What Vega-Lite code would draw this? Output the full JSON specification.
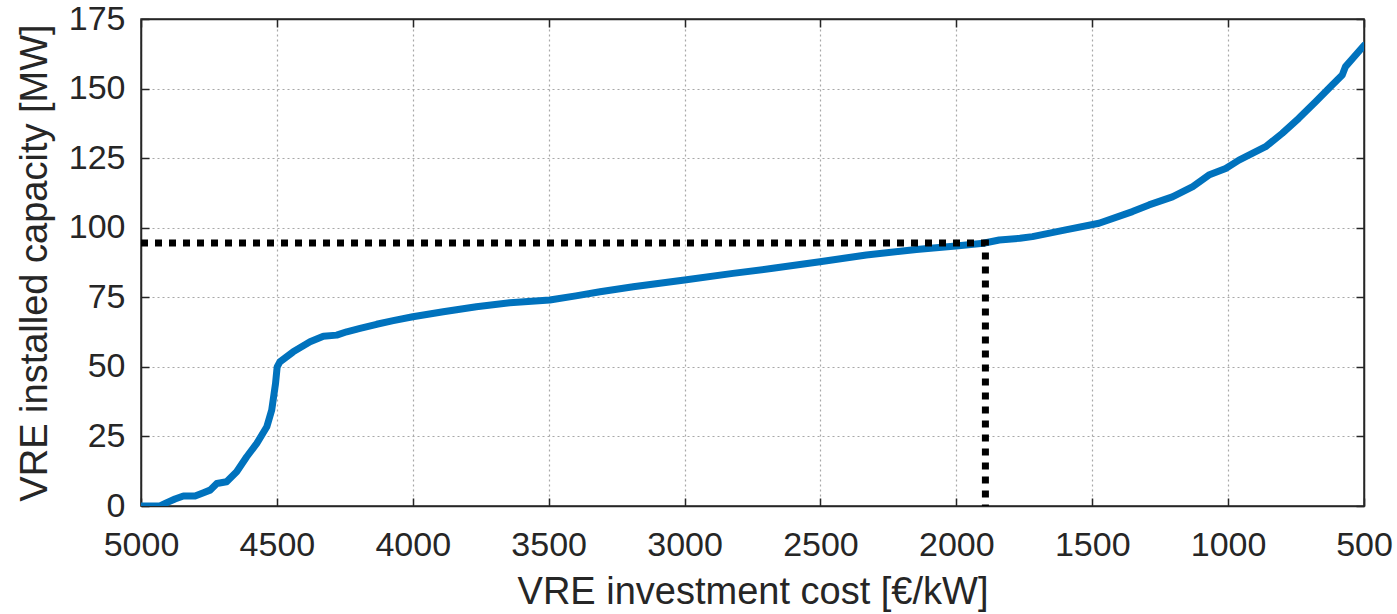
{
  "$schema": "https://vega.github.io/schema/vega-lite/v6.json",
  "autosize": "none",
  "padding": {"left": 141, "top": 19, "right": 33, "bottom": 108},
  "width": 1223,
  "height": 487,
  "background": "white",
  "config": {
    "font": "Liberation Sans",
    "view": {"stroke": "#262626", "strokeWidth": 1.5},
    "axis": {
      "labelFont": "Liberation Sans",
      "titleFont": "Liberation Sans",
      "labelFontSize": 34,
      "titleFontSize": 38,
      "labelColor": "#262626",
      "titleColor": "#262626",
      "titleFontWeight": "normal",
      "domainColor": "#262626",
      "domainWidth": 1.5,
      "tickColor": "#262626",
      "tickSize": -8,
      "tickWidth": 1.5,
      "gridColor": "#a8a8a8",
      "gridDash": [2, 3],
      "gridWidth": 1.2
    }
  },
  "resolve": {"axis": {"x": "independent", "y": "independent"}},
  "datasets": {
    "curve": [
      {"cost": 5000, "capacity": 0},
      {"cost": 4960, "capacity": 0},
      {"cost": 4930, "capacity": 0},
      {"cost": 4905, "capacity": 1.2},
      {"cost": 4875, "capacity": 2.5},
      {"cost": 4844, "capacity": 3.6},
      {"cost": 4801, "capacity": 3.6},
      {"cost": 4770, "capacity": 4.8},
      {"cost": 4746, "capacity": 5.7},
      {"cost": 4721, "capacity": 8.1},
      {"cost": 4685, "capacity": 8.7},
      {"cost": 4648, "capacity": 12.3},
      {"cost": 4611, "capacity": 17.7},
      {"cost": 4574, "capacity": 22.5},
      {"cost": 4537, "capacity": 28.5},
      {"cost": 4519, "capacity": 34.5},
      {"cost": 4505, "capacity": 44},
      {"cost": 4499, "capacity": 50},
      {"cost": 4489, "capacity": 51.8},
      {"cost": 4440, "capacity": 55.4},
      {"cost": 4378, "capacity": 59},
      {"cost": 4329, "capacity": 61},
      {"cost": 4280, "capacity": 61.4},
      {"cost": 4243, "capacity": 62.6},
      {"cost": 4194, "capacity": 63.8},
      {"cost": 4133, "capacity": 65.3},
      {"cost": 4072, "capacity": 66.6},
      {"cost": 4000, "capacity": 68},
      {"cost": 3888, "capacity": 69.8},
      {"cost": 3766, "capacity": 71.6},
      {"cost": 3643, "capacity": 73},
      {"cost": 3496, "capacity": 74},
      {"cost": 3400, "capacity": 75.5},
      {"cost": 3311, "capacity": 77},
      {"cost": 3189, "capacity": 78.8},
      {"cost": 3000, "capacity": 81.2},
      {"cost": 2822, "capacity": 83.6},
      {"cost": 2675, "capacity": 85.4},
      {"cost": 2502, "capacity": 87.8},
      {"cost": 2331, "capacity": 90.2},
      {"cost": 2147, "capacity": 92.2},
      {"cost": 2001, "capacity": 93.4},
      {"cost": 1901, "capacity": 94.4},
      {"cost": 1842, "capacity": 95.6},
      {"cost": 1766, "capacity": 96.2},
      {"cost": 1720, "capacity": 96.8},
      {"cost": 1598, "capacity": 99.2},
      {"cost": 1475, "capacity": 101.6},
      {"cost": 1352, "capacity": 105.8},
      {"cost": 1291, "capacity": 108.2},
      {"cost": 1205, "capacity": 111.1},
      {"cost": 1130, "capacity": 114.8},
      {"cost": 1071, "capacity": 118.9},
      {"cost": 1009, "capacity": 121.3},
      {"cost": 960, "capacity": 124.3},
      {"cost": 862, "capacity": 129.1},
      {"cost": 801, "capacity": 133.9},
      {"cost": 740, "capacity": 139.3},
      {"cost": 678, "capacity": 145.3},
      {"cost": 617, "capacity": 151.3},
      {"cost": 580, "capacity": 154.9},
      {"cost": 568, "capacity": 157.9},
      {"cost": 500, "capacity": 165.5}
    ],
    "ref": [
      {"i": 1, "cost": 5000, "capacity": 94.5},
      {"i": 2, "cost": 1893, "capacity": 94.5},
      {"i": 3, "cost": 1893, "capacity": 0}
    ]
  },
  "layer": [
    {
      "data": {"name": "curve"},
      "mark": {"type": "line", "color": "#0072BD", "strokeWidth": 7, "strokeCap": "round", "strokeJoin": "round", "clip": true},
      "encoding": {
        "x": {
          "field": "cost", "type": "quantitative",
          "scale": {"domain": [500, 5000], "reverse": true, "nice": false},
          "axis": {"values": [5000, 4500, 4000, 3500, 3000, 2500, 2000, 1500, 1000, 500], "format": "d", "title": "VRE investment cost [€/kW]", "labelPadding": 30, "titlePadding": 11, "labelFlush": false, "labelOverlap": false}
        },
        "y": {
          "field": "capacity", "type": "quantitative",
          "scale": {"domain": [0, 175], "nice": false},
          "axis": {"values": [0, 25, 50, 75, 100, 125, 150, 175], "format": "d", "title": "VRE installed capacity [MW]", "labelPadding": 24, "titlePadding": 14, "labelFlush": false, "labelOverlap": false}
        }
      }
    },
    {
      "data": {"name": "ref"},
      "mark": {"type": "line", "color": "black", "strokeWidth": 7, "strokeDash": [7, 7], "strokeCap": "butt"},
      "encoding": {
        "x": {
          "field": "cost", "type": "quantitative",
          "scale": {"domain": [500, 5000], "reverse": true, "nice": false},
          "axis": {"orient": "top", "values": [5000, 4500, 4000, 3500, 3000, 2500, 2000, 1500, 1000, 500], "labels": false, "title": null, "grid": false}
        },
        "y": {
          "field": "capacity", "type": "quantitative",
          "scale": {"domain": [0, 175], "nice": false},
          "axis": {"orient": "right", "values": [0, 25, 50, 75, 100, 125, 150, 175], "labels": false, "title": null, "grid": false}
        },
        "order": {"field": "i"}
      }
    }
  ]
}
